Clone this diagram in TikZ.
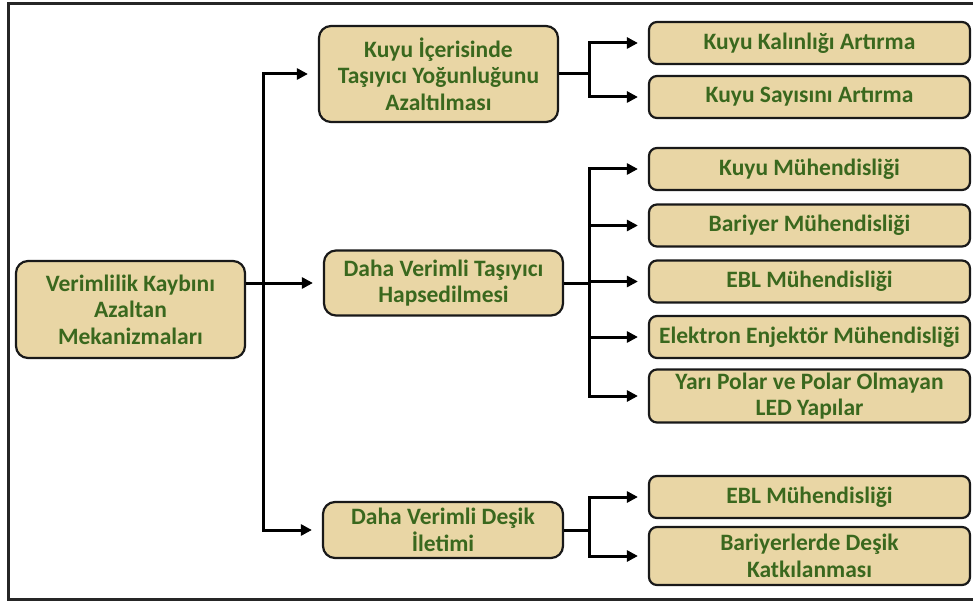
\documentclass[tikz,border=0pt]{standalone}
\usepackage{fontspec}
\setmainfont{Carlito}
\usetikzlibrary{arrows.meta}
\definecolor{boxfill}{RGB}{233,214,165}
\definecolor{txtgreen}{RGB}{58,104,30}
\tikzset{
  box/.style={draw=black!90, line width=2.2pt, fill=boxfill, rounded corners=12pt,
    align=center, text=txtgreen, font=\fontsize{23.5}{26.5}\selectfont\bfseries, inner sep=1pt},
  rbox/.style={box, rounded corners=8pt, minimum width=321pt, minimum height=42pt},
  conn/.style={line width=3pt, black},
  arr/.style={conn, -{Triangle[length=11pt,width=11pt]}, shorten >=10pt},
}
\begin{document}
\begin{tikzpicture}[x=1pt,y=-1pt]
\useasboundingbox (0,0) rectangle (973,601);
\draw[line width=3pt, black!85] (973,4) -- (8,4) -- (8,599) -- (973,599);

\node[box, minimum width=229pt, minimum height=97pt] (root) at (130.5,309.5) {Verimlilik Kaybını\\Azaltan\\Mekanizmaları};

\node[box, minimum width=239pt, minimum height=96pt] (m1) at (438.5,74) {Kuyu İçerisinde\\Taşıyıcı Yoğunluğunu\\Azaltılması};
\node[box, minimum width=239pt, minimum height=65pt] (m2) at (443.5,283) {Daha Verimli Taşıyıcı\\Hapsedilmesi};
\node[box, minimum width=240pt, minimum height=56pt] (m3) at (443,530) {Daha Verimli Deşik\\İletimi};

\node[rbox] (r1) at (809.5,43) {Kuyu Kalınlığı Artırma};
\node[rbox] (r2) at (809.5,97) {Kuyu Sayısını Artırma};
\node[rbox] (r3) at (809.5,169) {Kuyu Mühendisliği};
\node[rbox] (r4) at (809.5,225.5) {Bariyer Mühendisliği};
\node[rbox] (r5) at (809.5,281.5) {EBL Mühendisliği};
\node[rbox] (r6) at (809.5,337) {Elektron Enjektör Mühendisliği};
\node[rbox, minimum height=53pt] (r7) at (809.5,396) {Yarı Polar ve Polar Olmayan\\LED Yapılar};
\node[rbox] (r8) at (809.5,497) {EBL Mühendisliği};
\node[rbox, minimum height=58pt] (r9) at (809.5,556) {Bariyerlerde Deşik\\Katkılanması};

\coordinate (tr) at (263,0);
\coordinate (b) at (589,0);

% root to middle column
\draw[arr] (root.east |- m2.west) -- (m2.west);
\draw[arr] (tr |- m3.west) -- (tr |- m1.west) -- (m1.west);
\draw[arr] (tr |- m1.west) -- (tr |- m3.west) -- (m3.west);

% m1 branches
\draw[conn] (m1.east) -- (m1.east -| b);
\draw[arr] (r2.west -| b) -- (r1.west -| b) -- (r1.west);
\draw[arr] (r1.west -| b) -- (r2.west -| b) -- (r2.west);

% m2 branches
\draw[conn] (m2.east) -- (m2.east -| b);
\draw[arr] (r7.west -| b) -- (r3.west -| b) -- (r3.west);
\draw[arr] (r4.west -| b) -- (r4.west);
\draw[arr] (r5.west -| b) -- (r5.west);
\draw[arr] (r6.west -| b) -- (r6.west);
\draw[arr] (r3.west -| b) -- (r7.west -| b) -- (r7.west);

% m3 branches
\draw[conn] (m3.east) -- (m3.east -| b);
\draw[arr] (r9.west -| b) -- (r8.west -| b) -- (r8.west);
\draw[arr] (r8.west -| b) -- (r9.west -| b) -- (r9.west);
\end{tikzpicture}
\end{document}
